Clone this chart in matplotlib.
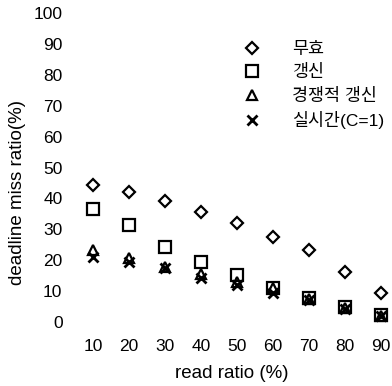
import matplotlib
matplotlib.use('Agg')
import matplotlib.pyplot as plt

plt.rcParams['font.family'] = ['Liberation Sans', 'Noto Sans CJK KR', 'DejaVu Sans']

# read ratio (%) on the x axis
read_ratio = [10, 20, 30, 40, 50, 60, 70, 80, 90]

# deadline miss ratio (%) per scheme
invalid = [44.3, 42.0, 39.2, 35.6, 32.0, 27.5, 23.3, 16.2, 9.4]
update = [36.6, 31.4, 24.3, 19.4, 15.2, 11.0, 7.8, 4.9, 2.3]
competitive = [23.3, 20.7, 17.8, 15.6, 13.0, 11.0, 7.5, 4.5, 2.0]
realtime = [21.0, 19.4, 17.5, 14.2, 12.0, 9.4, 7.0, 4.2, 1.8]

labels = ['무효', '갱신', '경쟁적 갱신', '실시간(C=1)']
y_ticks = [0, 10, 20, 30, 40, 50, 60, 70, 80, 90, 100]

fig = plt.figure(figsize=(3.92, 3.86), dpi=100)
ax = fig.add_axes([75 / 392, 1 - 322 / 386, 313 / 392, 309 / 386])

mkw = dict(linestyle='none', color='black', markerfacecolor='none', markeredgewidth=1.6)
ax.plot(read_ratio, invalid, marker='D', markersize=6, label=labels[0], **mkw)
ax.plot(read_ratio, update, marker='s', markersize=8, label=labels[1], **mkw)
ax.plot(read_ratio, competitive, marker='^', markersize=7, label=labels[2], **mkw)
ax.plot(read_ratio, realtime, marker='x', markersize=7.5, label=labels[3],
        linestyle='none', color='black', markeredgewidth=2)

ax.set_xlim(5, 92)
ax.set_ylim(0, 100)
ax.set_xticks(read_ratio)
ax.set_yticks(y_ticks)
for s in ax.spines.values():
    s.set_visible(False)
ax.tick_params(axis='both', length=0, labelsize=12.5)
ax.tick_params(axis='x', pad=12)
ax.tick_params(axis='y', pad=9)

ax.set_xlabel('read ratio (%)', fontsize=13.5, labelpad=8)
ax.set_ylabel('deadline miss ratio(%)', fontsize=13.5)
ax.yaxis.set_label_coords(-0.155, 0.42)

leg = ax.legend(loc='upper left', bbox_to_anchor=(235 / 392, 1 - 42 / 386),
                bbox_transform=fig.transFigure, frameon=False, fontsize=12.5,
                handlelength=2, handletextpad=1.3, borderpad=0,
                borderaxespad=0, labelspacing=0.42)

fig.savefig('out.png', dpi=100)
